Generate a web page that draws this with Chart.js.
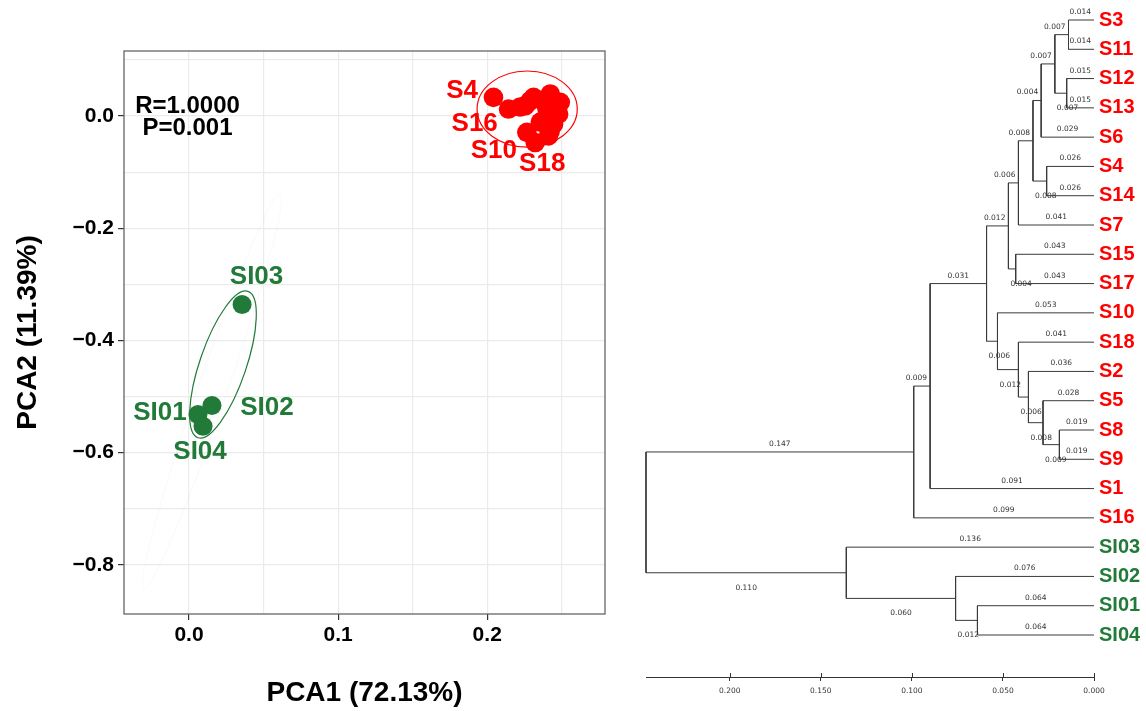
<!DOCTYPE html>
<html>
<head>
<meta charset="utf-8">
<script src="https://cdn.jsdelivr.net/npm/chart.js@4.4.1/dist/chart.umd.min.js"></script>
<style>
  body { margin: 0; background: #fff; }
  #wrap { position: relative; width: 1146px; height: 711px; }
  #pca { position: absolute; left: 0; top: 0; }
  #tree { position: absolute; left: 620px; top: 0; }
</style>
</head>
<body>
<div id="wrap">
  <canvas id="pca" width="620" height="711"></canvas>
  <canvas id="tree" width="526" height="711"></canvas>
</div>
<script>
// ---- PCA scores ----
const sNames = ['S1', 'S2', 'S3', 'S4', 'S5', 'S6', 'S7', 'S8', 'S9', 'S10', 'S11', 'S12', 'S13', 'S14', 'S15', 'S16', 'S17', 'S18'];
const sX = [0.2255, 0.2311, 0.2423, 0.2042, 0.2490, 0.2479, 0.2401, 0.2356, 0.2445, 0.2266, 0.2411, 0.2289, 0.2456, 0.2221, 0.2376, 0.2143, 0.2423, 0.2322];
const sY = [0.0184, 0.0334, 0.0393, 0.0334, 0.0245, 0.0036, 0.0125, -0.0107, -0.0143, -0.0291, -0.0352, 0.0273, 0.0184, 0.0161, 0.0268, 0.0125, -0.0263, -0.0470];
const siNames = ['SI01', 'SI02', 'SI03', 'SI04'];
const siX = [0.0060, 0.0154, 0.0356, 0.0094];
const siY = [-0.532, -0.516, -0.336, -0.553];

// labelled samples (text anchor in data units)
const pcaLabelNames = ['S4', 'S16', 'S10', 'S18', 'SI03', 'SI01', 'SI02', 'SI04'];
const pcaLabelX = [0.1832, 0.1916, 0.2044, 0.2369, 0.0453, -0.0195, 0.0523, 0.0074];
const pcaLabelY = [0.0446, -0.0143, -0.0625, -0.0857, -0.2857, -0.5286, -0.5196, -0.5982];

const statText = ['R=1.0000', 'P=0.001'];
const statX = -0.001;
const statY = [0.018, -0.0214];

// axis grid / ticks
const pcaXGrid = [0, 0.05, 0.1, 0.15, 0.2, 0.25];
const pcaXTicks = [0, 0.1, 0.2];
const pcaXTickLabels = ['0.0', '0.1', '0.2'];
const pcaYGrid = [0.1, 0, -0.1, -0.2, -0.3, -0.4, -0.5, -0.6, -0.7, -0.8];
const pcaYTicks = [0, -0.2, -0.4, -0.6, -0.8];
const pcaYTickLabels = ['0.0', '\u22120.2', '\u22120.4', '\u22120.6', '\u22120.8'];

// ---- dendrogram ----
const leafNames = ['S3', 'S11', 'S12', 'S13', 'S6', 'S4', 'S14', 'S7', 'S15', 'S17', 'S10', 'S18', 'S2', 'S5', 'S8', 'S9', 'S1', 'S16', 'SI03', 'SI02', 'SI01', 'SI04'];
// children: leaf name or index of an earlier node
const nodeChildren = [
  ['S3', 'S11'], ['S12', 'S13'], [0, 1], [2, 'S6'], ['S4', 'S14'], [3, 4], [5, 'S7'],
  ['S15', 'S17'], [6, 7], ['S8', 'S9'], ['S5', 9], ['S2', 10], ['S18', 11], ['S10', 12],
  [8, 13], [14, 'S1'], [15, 'S16'], ['SI01', 'SI04'], ['SI02', 17], ['SI03', 18], [16, 19]
];
const nodeHeights = [0.014, 0.015, 0.0215, 0.029, 0.026, 0.0335, 0.0415, 0.043, 0.047, 0.019, 0.028,
  0.036, 0.0415, 0.053, 0.059, 0.090, 0.099, 0.064, 0.076, 0.136, 0.246];
const branchLengths = [
  [0.014, 0.014], [0.015, 0.015], [0.007, 0.007], [0.007, 0.029], [0.026, 0.026], [0.004, 0.008], [0.008, 0.041],
  [0.043, 0.043], [0.006, 0.004], [0.019, 0.019], [0.028, 0.009], [0.036, 0.008], [0.041, 0.006], [0.053, 0.012],
  [0.012, 0.006], [0.031, 0.091], [0.009, 0.099], [0.064, 0.064], [0.076, 0.012], [0.136, 0.060], [0.147, 0.110]
];
const treeTicks = [0, 0.05, 0.1, 0.15, 0.2];
const treeTickLabels = ['0.000', '0.050', '0.100', '0.150', '0.200'];

const RED = '#ff0000';
const GREEN = '#217a38';
const FONT = '"Liberation Sans", Arial, sans-serif';

function groupColor(name) {
    return name.startsWith('SI') ? GREEN : RED;
}

function tickLabel(ticks, labels, v) {
    const i = ticks.findIndex(t => Math.abs(t - v) < 1e-9);
    return i < 0 ? '' : labels[i];
}

// ellipses drawn around the groups (center, end of major axis, minor/major ratio)
const ellipses = [
    { center: [0.0154, -0.491], tip: [0.0611, -0.1393], ratio: 0.07, color: 'rgba(0,0,0,0.025)' },
    { center: [0.2268, 0.0125], tip: [0.2604, 0.0125], ratio: 0.76, color: RED },
    { center: [0.0228, -0.4429], tip: [0.0396, -0.3125], ratio: 0.3, color: GREEN },
];

const pcaDecor = {
    id: 'pcaDecor',
    beforeDatasetsDraw(chart) {
        const { ctx, scales: { x, y } } = chart;
        ctx.save();
        ellipses.forEach(e => {
            const cx = x.getPixelForValue(e.center[0]);
            const cy = y.getPixelForValue(e.center[1]);
            const tx = x.getPixelForValue(e.tip[0]);
            const ty = y.getPixelForValue(e.tip[1]);
            const a = Math.hypot(tx - cx, ty - cy);
            ctx.beginPath();
            ctx.ellipse(cx, cy, a, a * e.ratio, Math.atan2(ty - cy, tx - cx), 0, Math.PI * 2);
            ctx.strokeStyle = e.color;
            ctx.lineWidth = 1.2;
            ctx.stroke();
        });
        ctx.restore();
    },
    afterDatasetsDraw(chart) {
        const { ctx, scales: { x, y } } = chart;
        ctx.save();
        ctx.textAlign = 'center';
        ctx.textBaseline = 'middle';
        ctx.font = 'bold 26px ' + FONT;
        pcaLabelNames.forEach((n, i) => {
            ctx.fillStyle = groupColor(n);
            ctx.fillText(n, x.getPixelForValue(pcaLabelX[i]), y.getPixelForValue(pcaLabelY[i]));
        });
        ctx.font = 'bold 24px ' + FONT;
        ctx.fillStyle = '#000';
        statText.forEach((t, i) => {
            ctx.fillText(t, x.getPixelForValue(statX), y.getPixelForValue(statY[i]));
        });
        ctx.restore();
    },
    afterDraw(chart) {
        const { ctx, chartArea: a } = chart;
        ctx.save();
        ctx.strokeStyle = '#666';
        ctx.lineWidth = 1.3;
        ctx.strokeRect(a.left, a.top, a.right - a.left, a.bottom - a.top);
        ctx.restore();
    }
};

new Chart(document.getElementById('pca'), {
    type: 'scatter',
    data: {
        datasets: [
            {
                label: 'S',
                data: sNames.map((n, i) => ({ x: sX[i], y: sY[i] })),
                backgroundColor: RED,
                borderWidth: 0,
                pointRadius: 9.8,
                pointHoverRadius: 9.8,
            },
            {
                label: 'SI',
                data: siNames.map((n, i) => ({ x: siX[i], y: siY[i] })),
                backgroundColor: GREEN,
                borderWidth: 0,
                pointRadius: 9.5,
                pointHoverRadius: 9.5,
            }
        ]
    },
    options: {
        responsive: false,
        animation: false,
        devicePixelRatio: 1,
        layout: { padding: { left: 0, top: 51, right: 15, bottom: 0 } },
        plugins: { legend: { display: false }, tooltip: { enabled: false } },
        scales: {
            x: {
                type: 'linear',
                min: -0.0436,
                max: 0.279,
                afterBuildTicks: s => { s.ticks = pcaXGrid.map(v => ({ value: v })); },
                afterFit: s => { s.height = 97; },
                border: { display: false },
                grid: {
                    color: '#ebebeb',
                    lineWidth: 1.2,
                    tickLength: 6,
                    tickColor: c => (c.tick && tickLabel(pcaXTicks, pcaXTickLabels, c.tick.value)) ? '#333' : 'rgba(0,0,0,0)',
                },
                ticks: {
                    callback: v => tickLabel(pcaXTicks, pcaXTickLabels, v),
                    font: { family: FONT, size: 21, weight: 'bold' },
                    color: '#000',
                    padding: 3,
                    maxRotation: 0,
                    autoSkip: false,
                },
                title: {
                    display: true,
                    text: 'PCA1 (72.13%)',
                    font: { family: FONT, size: 28, weight: 'bold' },
                    color: '#000',
                    padding: { top: 0, bottom: 1 },
                },
            },
            y: {
                type: 'linear',
                min: -0.8875,
                max: 0.116,
                afterBuildTicks: s => { s.ticks = pcaYGrid.map(v => ({ value: v })); },
                afterFit: s => { s.width = 124; },
                border: { display: false },
                grid: {
                    color: '#ebebeb',
                    lineWidth: 1.2,
                    tickLength: 6,
                    tickColor: c => (c.tick && tickLabel(pcaYTicks, pcaYTickLabels, c.tick.value)) ? '#333' : 'rgba(0,0,0,0)',
                },
                ticks: {
                    callback: v => tickLabel(pcaYTicks, pcaYTickLabels, v),
                    font: { family: FONT, size: 21, weight: 'bold' },
                    color: '#000',
                    padding: 4,
                    autoSkip: false,
                },
                title: {
                    display: true,
                    text: 'PCA2 (11.39%)',
                    font: { family: FONT, size: 28, weight: 'bold' },
                    color: '#000',
                    padding: { top: 11, bottom: 0 },
                },
            }
        }
    },
    plugins: [pcaDecor]
});

// ---- dendrogram geometry from the merge table ----
const nodeY = [];
function childPos(c) {
    if (typeof c === 'string') return { h: 0, y: leafNames.indexOf(c), leaf: true };
    return { h: nodeHeights[c], y: nodeY[c], leaf: false };
}
nodeChildren.forEach((ch, k) => {
    nodeY[k] = (childPos(ch[0]).y + childPos(ch[1]).y) / 2;
});

const treeLine = [];
nodeChildren.forEach((ch, k) => {
    const a = childPos(ch[0]);
    const b = childPos(ch[1]);
    const h = nodeHeights[k];
    treeLine.push({ x: a.h, y: a.y }, { x: h, y: a.y }, { x: h, y: b.y }, { x: b.h, y: b.y }, { x: b.h, y: null });
});

const treeDecor = {
    id: 'treeDecor',
    afterDatasetsDraw(chart) {
        const { ctx, scales: { x, y } } = chart;
        ctx.save();
        // leaf names
        ctx.font = 'bold 20px ' + FONT;
        ctx.textAlign = 'left';
        ctx.textBaseline = 'middle';
        leafNames.forEach((n, i) => {
            ctx.fillStyle = groupColor(n);
            ctx.fillText(n, x.getPixelForValue(0) + 5, y.getPixelForValue(i));
        });
        // branch lengths
        ctx.font = '7.5px "DejaVu Sans", sans-serif';
        ctx.textAlign = 'center';
        ctx.fillStyle = '#333';
        nodeChildren.forEach((ch, k) => {
            const left = x.getPixelForValue(nodeHeights[k]);
            ch.forEach((c, j) => {
                const p = childPos(c);
                const right = x.getPixelForValue(p.h);
                const py = y.getPixelForValue(p.y);
                const txt = branchLengths[k][j].toFixed(3);
                const w = ctx.measureText(txt).width;
                const mid = (left + right) / 2;
                let cx, cy;
                if (p.leaf || j === 0) {
                    cx = Math.min(mid, right - w / 2 - 3);
                    cy = py - 8;
                } else {
                    cx = Math.max(mid, left + w / 2 + 2);
                    cy = py + 15;
                }
                ctx.fillText(txt, cx, cy);
            });
        });
        ctx.restore();
    },
    afterDraw(chart) {
        // tick marks also reach a little above the scale line
        const { ctx, scales: { x }, chartArea: a } = chart;
        ctx.save();
        ctx.strokeStyle = '#333';
        ctx.lineWidth = 1;
        treeTicks.forEach(v => {
            const px = Math.round(x.getPixelForValue(v)) + 0.5;
            ctx.beginPath();
            ctx.moveTo(px, a.bottom - 4);
            ctx.lineTo(px, a.bottom);
            ctx.stroke();
        });
        ctx.restore();
    }
};

new Chart(document.getElementById('tree'), {
    type: 'line',
    data: {
        datasets: [{
            data: treeLine,
            borderColor: '#3a3a3a',
            borderWidth: 1,
            pointRadius: 0,
            pointHoverRadius: 0,
            tension: 0,
            spanGaps: false,
            clip: false,
        }]
    },
    options: {
        responsive: false,
        animation: false,
        devicePixelRatio: 1,
        layout: { padding: { left: 26, top: 20, right: 52, bottom: 0 } },
        plugins: { legend: { display: false }, tooltip: { enabled: false } },
        scales: {
            x: {
                type: 'linear',
                reverse: true,
                min: 0,
                max: 0.246,
                afterBuildTicks: s => { s.ticks = treeTicks.map(v => ({ value: v })); },
                afterFit: s => { s.height = 34; },
                border: { display: true, color: '#333', width: 1 },
                grid: { drawOnChartArea: false, tickLength: 4, color: '#333' },
                ticks: {
                    callback: v => tickLabel(treeTicks, treeTickLabels, v),
                    font: { family: '"DejaVu Sans", sans-serif', size: 7.5 },
                    color: '#333',
                    padding: 6,
                    maxRotation: 0,
                    autoSkip: false,
                },
            },
            y: {
                type: 'linear',
                display: false,
                reverse: true,
                min: 0,
                max: 22.434,
            }
        }
    },
    plugins: [treeDecor]
});
</script>
</body>
</html>
